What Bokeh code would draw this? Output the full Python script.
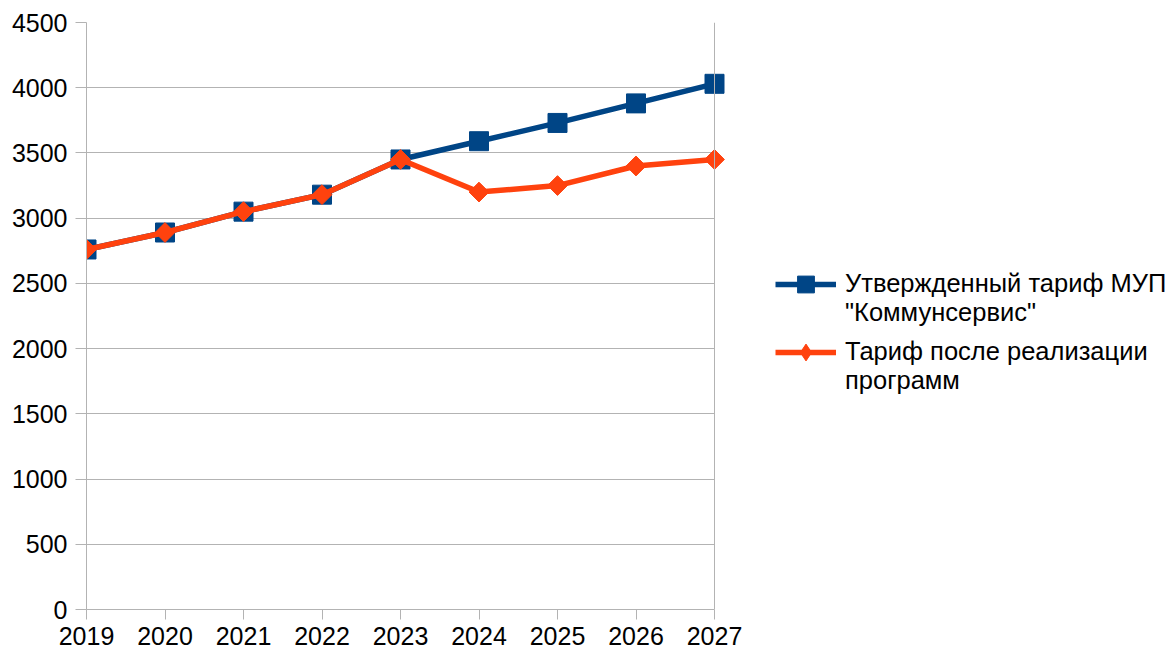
import math
from bokeh.plotting import figure
from bokeh.models import Range1d, FixedTicker, Legend, LegendItem, Span
from bokeh.embed import file_html
from bokeh.resources import INLINE

years = [2019, 2020, 2021, 2022, 2023, 2024, 2025, 2026, 2027]
approved_tariff = [2760, 2890, 3050, 3180, 3450, 3590, 3730, 3880, 4030]
program_tariff = [2760, 2890, 3050, 3180, 3450, 3200, 3250, 3400, 3450]
y_ticks = [0, 500, 1000, 1500, 2000, 2500, 3000, 3500, 4000, 4500]

# a leading empty line keeps the legend glyph level with the first text line
label_approved = '\nУтвержденный тариф МУП\n"Коммунсервис"'
label_program = "\nТариф после реализации\nпрограмм"

BLUE = "#004586"
RED = "#ff420e"
GRID = "#b3b3b3"
FONT = "Liberation Sans"

W, H = 1175, 654
LEFT, TOP, BOTTOM = 86, 22, 45
PLOT_W = 628  # width of the drawn axes box; the rest of the frame holds the legend
frame_w = W - LEFT
x_end = years[0] + (years[-1] - years[0]) * frame_w / PLOT_W

p = figure(width=W, height=H, output_backend="svg", toolbar_location=None,
           x_range=Range1d(years[0], x_end), y_range=Range1d(0, 4500),
           min_border_left=LEFT, min_border_right=0,
           min_border_top=TOP, min_border_bottom=BOTTOM)

p.outline_line_color = None
p.xgrid.grid_line_color = None
grid = p.ygrid[0]
if "cross_bounds" in grid.properties():
    grid.grid_line_color = GRID
    grid.ticker = FixedTicker(ticks=y_ticks)
    grid.cross_bounds = (years[0], years[-1])
else:
    grid.grid_line_color = None
    p.segment(x0=[years[0]] * len(y_ticks), x1=[years[-1]] * len(y_ticks),
              y0=y_ticks, y1=y_ticks, line_color=GRID, line_width=1)

p.xaxis.ticker = FixedTicker(ticks=years)
p.yaxis.ticker = FixedTicker(ticks=y_ticks)
p.xaxis.bounds = (years[0], years[-1])
for ax in (p.xaxis, p.yaxis):
    ax.axis_line_color = GRID
    ax.major_tick_line_color = GRID
    ax.minor_tick_line_color = None
    ax.major_label_text_font = FONT
    ax.major_label_text_font_size = "25px"
    ax.major_label_text_color = "#000000"
p.xaxis.major_tick_out = 10
p.xaxis.major_tick_in = 0
p.yaxis.major_tick_out = 11
p.yaxis.major_tick_in = 0
p.xaxis.major_label_standoff = 7
p.yaxis.major_label_standoff = 8

# right edge of the axes box
p.add_layout(Span(location=years[-1], dimension="height",
                  line_color=GRID, line_width=1))

l1 = p.line(years, approved_tariff, line_color=BLUE, line_width=5.5)
m1 = p.scatter(years, approved_tariff, marker="square", size=19,
               fill_color=BLUE, line_color=BLUE)
l2 = p.line(years, program_tariff, line_color=RED, line_width=5.5)
# diamond shape used by the legend entry; covered by the wider markers below
d2 = p.scatter(years, program_tariff, marker="diamond", size=14,
               fill_color=RED, line_color=RED)
m2 = p.scatter(years, program_tariff, marker="square", size=14,
               angle=math.pi / 4, fill_color=RED, line_color=RED)

legend_style = dict(border_line_color=None, background_fill_alpha=0,
                    margin=0, padding=0, label_text_font=FONT,
                    label_text_font_size="25.5px", label_text_color="#000000",
                    label_text_line_height=1.15, glyph_width=61,
                    glyph_height=42, spacing=0, label_standoff=9)

legend_top = Legend(items=[LegendItem(label=label_approved, renderers=[l1, m1])],
                    location=(689, 282), **legend_style)
legend_bottom = Legend(items=[LegendItem(label=label_program, renderers=[l2, d2])],
                       location=(689, 214), **legend_style)
p.add_layout(legend_top)
p.add_layout(legend_bottom)

open("out.html", "w").write(file_html(p, INLINE))
